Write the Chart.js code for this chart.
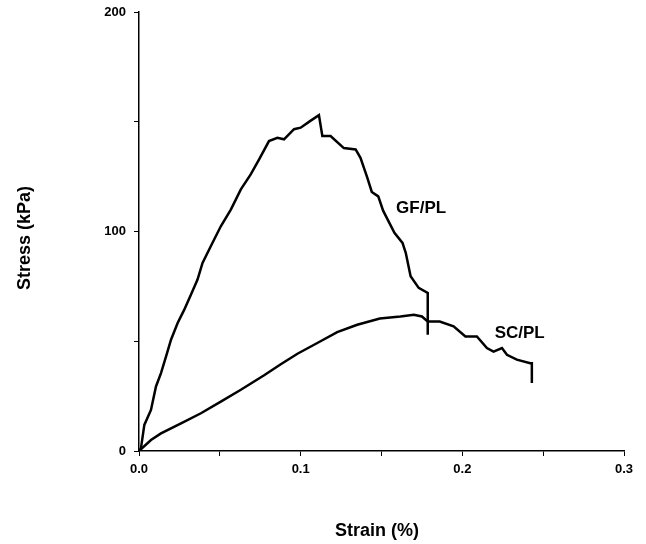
<!DOCTYPE html>
<html>
<head>
<meta charset="utf-8">
<script src="https://cdn.jsdelivr.net/npm/chart.js@4.4.1/dist/chart.umd.min.js"></script>
<style>
	html, body {margin: 0; padding: 0; background: #fff;}
	#wrap {width: 646px; height: 544px;}
</style>
</head>
<body>
<div id="wrap"><canvas id="chart" width="646" height="544"></canvas></div>
<script>
// values
var gfStrain = [0, 0.0012, 0.0033, 0.0074, 0.0105, 0.0136, 0.0167, 0.0198, 0.0239, 0.028, 0.0321, 0.0362, 0.0393, 0.0444, 0.0506, 0.0568, 0.063, 0.0691, 0.0743, 0.0804, 0.0856, 0.0897, 0.0959, 0.1, 0.106, 0.1113, 0.1134, 0.1185, 0.1267, 0.134, 0.137, 0.141, 0.144, 0.148, 0.151, 0.158, 0.163, 0.165, 0.168, 0.173, 0.1786, 0.1786];
var gfStress = [0, 1.2, 11.9, 18.7, 29.4, 35.5, 43, 50.7, 58.3, 64.4, 71.2, 78.1, 85.7, 93.3, 102.4, 110, 119.2, 126, 132.9, 141.2, 142.7, 142, 146.6, 147.3, 150.4, 153, 143.5, 143.5, 138, 137.4, 133.6, 125, 118, 116, 109.5, 99.4, 94.8, 90.3, 79.6, 74.3, 72, 53];

var scStrain = [0, 0.0074, 0.0136, 0.026, 0.0383, 0.0506, 0.063, 0.0774, 0.0877, 0.098, 0.1103, 0.1226, 0.135, 0.149, 0.1617, 0.17, 0.175, 0.1786, 0.186, 0.1946, 0.2019, 0.209, 0.2152, 0.2193, 0.2245, 0.2276, 0.2337, 0.242, 0.243, 0.243];
var scStress = [0, 5, 8, 12.6, 17.2, 22.5, 27.9, 34.5, 39.5, 44.3, 49.2, 54.2, 57.5, 60.4, 61.3, 62.1, 61.3, 59, 59, 56.8, 52.2, 52.2, 46.9, 45.3, 46.9, 43.8, 41.6, 40, 40, 31];

var seriesNames = ['GF/PL', 'SC/PL'];
var seriesLabelAt = [{x: 0.1745, y: 110.5}, {x: 0.2355, y: 53.5}];

var xTitle = 'Strain (%)';
var yTitle = 'Stress (kPa)';

var fontFamily = '"Liberation Sans", Arial, Helvetica, sans-serif';

function toPoints(xs, ys)
{
	return xs.map(function (x, i) {return {x: x, y: ys[i]}});
}

var textPlugin =
{
	id: 'textLabels',
	afterDraw: function (chart)
	{
		var ctx = chart.ctx;
		var xs = chart.scales.x;
		var ys = chart.scales.y;

		ctx.save();
		ctx.fillStyle = '#000';
		ctx.textAlign = 'center';
		ctx.textBaseline = 'middle';

		ctx.font = 'bold 17px ' + fontFamily;
		seriesNames.forEach(function (name, i)
		{
			ctx.fillText(name, xs.getPixelForValue(seriesLabelAt[i].x), ys.getPixelForValue(seriesLabelAt[i].y));
		});

		ctx.font = 'bold 18px ' + fontFamily;
		ctx.fillText(xTitle, 377, 531);

		ctx.translate(25, 238);
		ctx.rotate(-Math.PI / 2);
		ctx.fillText(yTitle, 0, 0);
		ctx.restore();
	}
};

new Chart(document.getElementById('chart'),
{
	type: 'scatter',
	data:
	{
		datasets:
		[
			{
				label: seriesNames[0],
				data: toPoints(gfStrain, gfStress),
				showLine: true,
				borderColor: '#000',
				borderWidth: 2.5,
				pointRadius: 0,
				tension: 0
			},
			{
				label: seriesNames[1],
				data: toPoints(scStrain, scStress),
				showLine: true,
				borderColor: '#000',
				borderWidth: 2.5,
				pointRadius: 0,
				tension: 0
			}
		]
	},
	options:
	{
		responsive: false,
		animation: false,
		layout: {padding: {left: 0, right: 22, top: 12, bottom: 0}},
		plugins:
		{
			legend: {display: false},
			tooltip: {enabled: false}
		},
		scales:
		{
			x:
			{
				type: 'linear',
				min: 0,
				max: 0.3,
				afterFit: function (scale) {scale.height = 93},
				border: {display: true, color: '#000', width: 1.5},
				grid: {drawOnChartArea: false, drawTicks: true, tickLength: 5, color: '#000', lineWidth: 1},
				ticks:
				{
					stepSize: 0.05,
					padding: 6,
					color: '#000',
					maxRotation: 0,
					autoSkip: false,
					font: {family: fontFamily, size: 13, weight: 'bold'},
					callback: function (value)
					{
						return Math.round(value * 100) % 10 === 0 ? value.toFixed(1) : '';
					}
				}
			},
			y:
			{
				type: 'linear',
				min: 0,
				max: 200,
				afterFit: function (scale)
				{
					scale.width = 139;
					scale.paddingTop = 0;
					scale.paddingBottom = 0;
				},
				border: {display: true, color: '#000', width: 1.5},
				grid: {drawOnChartArea: false, drawTicks: true, tickLength: 5, color: '#000', lineWidth: 1},
				ticks:
				{
					stepSize: 50,
					padding: 8,
					color: '#000',
					autoSkip: false,
					font: {family: fontFamily, size: 13, weight: 'bold'},
					callback: function (value)
					{
						return value % 100 === 0 ? value : '';
					}
				}
			}
		}
	},
	plugins: [textPlugin]
});
</script>
</body>
</html>
